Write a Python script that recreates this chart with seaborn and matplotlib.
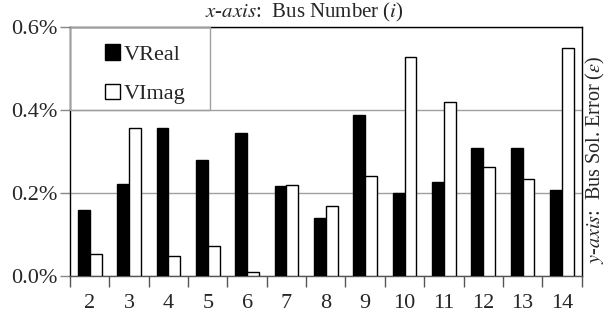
import numpy as np
import pandas as pd
import seaborn as sns
import matplotlib.pyplot as plt
import matplotlib.transforms as mtransforms
from matplotlib.patches import Rectangle, Patch

# Bus solution error values (%)
buses = [2, 3, 4, 5, 6, 7, 8, 9, 10, 11, 12, 13, 14]
vreal = [0.159, 0.221, 0.355, 0.278, 0.343, 0.216, 0.139, 0.387, 0.200, 0.227, 0.308, 0.307, 0.208]
vimag = [0.053, 0.357, 0.047, 0.072, 0.010, 0.219, 0.168, 0.240, 0.528, 0.419, 0.262, 0.234, 0.549]
series = ['VReal', 'VImag']
yticks = [0.0, 0.2, 0.4, 0.6]

df = pd.DataFrame({'Bus': buses * 2,
                   'Error': vreal + vimag,
                   'Series': ['VReal'] * len(buses) + ['VImag'] * len(buses)})
df['Bus'] = df['Bus'].astype(str)

sns.set_style('white')
plt.rcParams['font.family'] = ['Liberation Serif', 'DejaVu Serif']
plt.rcParams['mathtext.fontset'] = 'stix'

fig = plt.figure(figsize=(6.09, 3.22), dpi=100)
ax = fig.add_axes([0.115, 0.143, 0.84, 0.774])

sns.barplot(data=df, x='Bus', y='Error', hue='Series', hue_order=series,
            palette={'VReal': 'black', 'VImag': 'white'}, width=0.6, gap=0,
            edgecolor='black', linewidth=1.0, ax=ax, legend=False, zorder=3)

ax.set_xlim(-0.5, len(buses) - 0.5)
ax.set_ylim(0, 0.6)
ax.set_yticks(yticks)
ax.set_yticklabels([f'{v:.1f}%' for v in yticks], fontsize=16)
ax.grid(axis='y', color='#a0a0a0', linewidth=1.0, zorder=0)
ax.set_axisbelow(True)

# x ticks: labels at centres, tick marks at boundaries
ax.set_xticks(range(len(buses)))
ax.set_xticklabels([str(b) for b in buses], fontsize=16)
ax.tick_params(axis='x', which='major', length=0, pad=13)
ax.set_xticks(np.arange(-0.5, len(buses) - 0.4, 1), minor=True)
ax.tick_params(axis='x', which='minor', length=8, width=1, color='#555555', direction='out', bottom=True)
ax.tick_params(axis='y', length=7, width=1, color='#888888', direction='out', left=True, pad=2)

for s in ['top', 'right', 'left']:
    ax.spines[s].set_color('black')
    ax.spines[s].set_linewidth(1.0)
ax.spines['bottom'].set_color('#555555')
ax.spines['bottom'].set_linewidth(1.0)

ax.set_xlabel('')
ax.set_ylabel('')

# legend box (top-left, down to 0.4% line)
trans = mtransforms.blended_transform_factory(ax.transAxes, ax.transData)
ax.add_patch(Rectangle((0, 0.4), 0.273, 0.2, transform=trans, fill=False,
                       edgecolor='#a0a0a0', linewidth=1.0, zorder=4, clip_on=False))
handles = [Patch(facecolor='black', edgecolor='black'),
           Patch(facecolor='white', edgecolor='black')]
ax.legend(handles, series, loc='upper left', bbox_to_anchor=(0.05, 0.965),
          frameon=False, fontsize=16, handlelength=0.7, handleheight=0.7,
          handletextpad=0.15, labelspacing=0.85, borderaxespad=0)

fig.text(0.5, 0.962, r'$\it{x}$-$\it{axis}$:  Bus Number ($\it{i}$)', ha='center', va='center', fontsize=15)
fig.text(0.978, 0.505, r'$\it{y}$-$\it{axis}$:  Bus Sol. Error ($\varepsilon$)', ha='center', va='center',
         rotation=90, fontsize=14.5)

fig.savefig('out.png', dpi=100)
